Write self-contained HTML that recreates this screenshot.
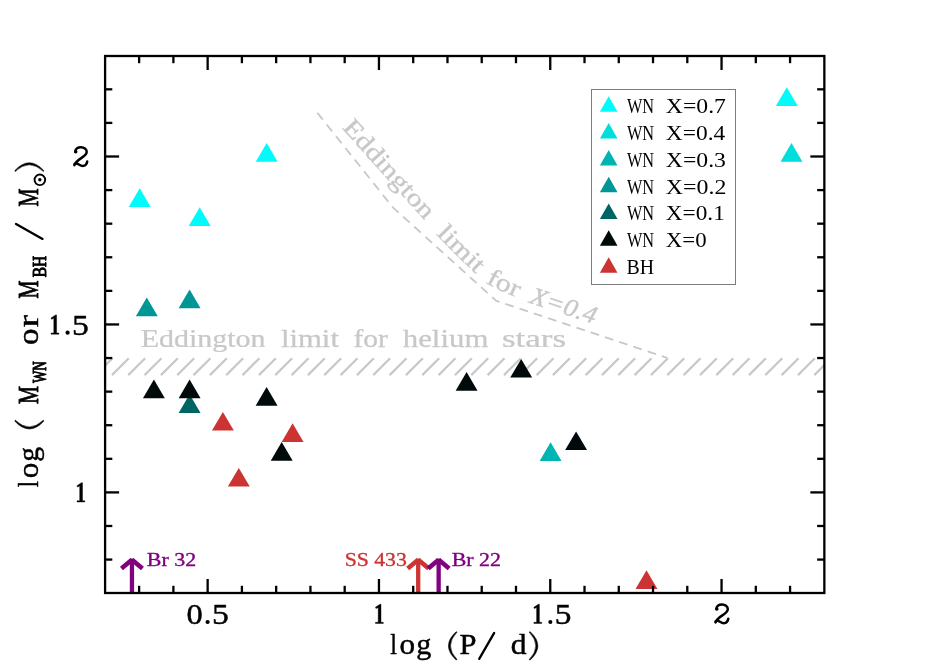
<!DOCTYPE html>
<html><head><meta charset="utf-8"><title>WN mass vs period</title>
<style>html,body{margin:0;padding:0;background:#fff;}body{width:940px;height:664px;overflow:hidden;}svg{display:block;will-change:transform;}text{font-family:"Liberation Serif",serif;}</style>
</head><body>
<svg width="940" height="664" viewBox="0 0 940 664">
<rect x="0" y="0" width="940" height="664" fill="#ffffff"/>
<defs><clipPath id="pc"><rect x="105.1" y="56.0" width="719.25" height="537.0"/></clipPath></defs>
<g clip-path="url(#pc)" stroke="#c8c8c8" stroke-width="2.2" stroke-linecap="butt" fill="none">
<line x1="95.56" y1="375.1" x2="112.47" y2="358.2"/>
<line x1="111.90" y1="375.1" x2="128.80" y2="358.2"/>
<line x1="128.24" y1="375.1" x2="145.14" y2="358.2"/>
<line x1="144.57" y1="375.1" x2="161.47" y2="358.2"/>
<line x1="160.91" y1="375.1" x2="177.81" y2="358.2"/>
<line x1="177.24" y1="375.1" x2="194.14" y2="358.2"/>
<line x1="193.57" y1="375.1" x2="210.48" y2="358.2"/>
<line x1="209.91" y1="375.1" x2="226.81" y2="358.2"/>
<line x1="226.25" y1="375.1" x2="243.15" y2="358.2"/>
<line x1="242.58" y1="375.1" x2="259.48" y2="358.2"/>
<line x1="258.92" y1="375.1" x2="275.82" y2="358.2"/>
<line x1="275.25" y1="375.1" x2="292.15" y2="358.2"/>
<line x1="291.59" y1="375.1" x2="308.49" y2="358.2"/>
<line x1="307.92" y1="375.1" x2="324.82" y2="358.2"/>
<line x1="324.25" y1="375.1" x2="341.16" y2="358.2"/>
<line x1="340.59" y1="375.1" x2="357.49" y2="358.2"/>
<line x1="356.93" y1="375.1" x2="373.83" y2="358.2"/>
<line x1="373.26" y1="375.1" x2="390.16" y2="358.2"/>
<line x1="389.60" y1="375.1" x2="406.50" y2="358.2"/>
<line x1="405.93" y1="375.1" x2="422.83" y2="358.2"/>
<line x1="422.27" y1="375.1" x2="439.17" y2="358.2"/>
<line x1="438.60" y1="375.1" x2="455.50" y2="358.2"/>
<line x1="454.94" y1="375.1" x2="471.84" y2="358.2"/>
<line x1="471.27" y1="375.1" x2="488.17" y2="358.2"/>
<line x1="487.61" y1="375.1" x2="504.51" y2="358.2"/>
<line x1="503.94" y1="375.1" x2="520.84" y2="358.2"/>
<line x1="520.28" y1="375.1" x2="537.18" y2="358.2"/>
<line x1="536.61" y1="375.1" x2="553.51" y2="358.2"/>
<line x1="552.94" y1="375.1" x2="569.85" y2="358.2"/>
<line x1="569.28" y1="375.1" x2="586.18" y2="358.2"/>
<line x1="585.62" y1="375.1" x2="602.52" y2="358.2"/>
<line x1="601.95" y1="375.1" x2="618.85" y2="358.2"/>
<line x1="618.29" y1="375.1" x2="635.19" y2="358.2"/>
<line x1="634.62" y1="375.1" x2="651.52" y2="358.2"/>
<line x1="650.95" y1="375.1" x2="667.86" y2="358.2"/>
<line x1="667.29" y1="375.1" x2="684.19" y2="358.2"/>
<line x1="683.62" y1="375.1" x2="700.53" y2="358.2"/>
<line x1="699.96" y1="375.1" x2="716.86" y2="358.2"/>
<line x1="716.30" y1="375.1" x2="733.20" y2="358.2"/>
<line x1="732.63" y1="375.1" x2="749.53" y2="358.2"/>
<line x1="748.97" y1="375.1" x2="765.87" y2="358.2"/>
<line x1="765.30" y1="375.1" x2="782.20" y2="358.2"/>
<line x1="781.63" y1="375.1" x2="798.54" y2="358.2"/>
<line x1="797.97" y1="375.1" x2="814.87" y2="358.2"/>
<line x1="814.31" y1="375.1" x2="831.21" y2="358.2"/>
</g>
<path d="M317.3,112.8 L392.8,207.3 L496.2,300.8 L667.2,357.9" fill="none" stroke="#c8c8c8" stroke-width="1.8" stroke-dasharray="8.8 6.2" stroke-linejoin="round"/>
<path id="edp" d="M328.33,113.22 L341.70,128.10 L343.80,130.43 L345.94,132.81 L348.11,135.23 L350.32,137.69 L352.57,140.19 L354.84,142.71 L357.13,145.26 L359.45,147.84 L361.78,150.43 L364.13,153.04 L366.49,155.66 L368.86,158.30 L371.23,160.93 L373.61,163.57 L375.98,166.20 L378.35,168.83 L380.70,171.45 L383.05,174.06 L385.38,176.65 L387.69,179.21 L389.98,181.76 L392.24,184.27 L394.47,186.75 L396.67,189.20 L398.83,191.61 L400.96,193.97 L403.04,196.29 L405.08,198.56 L407.06,200.77 L409.00,202.93 L410.88,205.02 L412.70,207.05 L414.45,209.01 L416.14,210.90 L417.76,212.71 L419.31,214.44 L420.78,216.09 L422.17,217.65 L423.48,219.12 L424.70,220.50 L425.82,221.77 L426.85,222.93 L427.77,223.99 L428.60,224.95 L429.34,225.81 L429.99,226.58 L430.57,227.27 L431.07,227.87 L431.50,228.41 L431.87,228.87 L432.18,229.26 L432.43,229.60 L432.63,229.88 L432.78,230.11 L432.89,230.29 L432.96,230.43 L433.00,230.54 L433.02,230.61 L433.01,230.66 L432.98,230.69 L432.94,230.70 L432.89,230.70 L432.84,230.69 L432.79,230.68 L432.74,230.67 L432.70,230.68 L432.68,230.69 L432.68,230.72 L432.70,230.78 L432.75,230.86 L432.84,230.98 L432.96,231.13 L433.13,231.33 L433.34,231.57 L433.61,231.87 L433.93,232.22 L434.32,232.64 L434.77,233.12 L435.30,233.67 L435.90,234.30 L436.57,235.00 L437.29,235.74 L438.06,236.53 L438.87,237.36 L439.73,238.24 L440.63,239.15 L441.57,240.10 L442.54,241.08 L443.55,242.09 L444.59,243.13 L445.65,244.20 L446.74,245.29 L447.85,246.39 L448.98,247.52 L450.12,248.66 L451.28,249.81 L452.45,250.97 L453.63,252.13 L454.81,253.30 L455.99,254.47 L457.18,255.65 L458.36,256.81 L459.54,257.97 L460.70,259.12 L461.86,260.26 L463.00,261.38 L464.13,262.49 L465.24,263.58 L466.32,264.64 L467.38,265.68 L468.41,266.69 L469.41,267.67 L470.38,268.62 L471.31,269.53 L472.21,270.40 L473.06,271.23 L473.87,272.02 L474.63,272.77 L475.34,273.46 L476.00,274.10 L476.61,274.70 L477.17,275.25 L477.69,275.77 L478.17,276.26 L478.62,276.71 L479.02,277.13 L479.39,277.52 L479.73,277.87 L480.04,278.21 L480.32,278.51 L480.57,278.79 L480.80,279.05 L481.01,279.29 L481.20,279.51 L481.38,279.71 L481.53,279.90 L481.68,280.06 L481.82,280.22 L481.94,280.37 L482.06,280.50 L482.18,280.63 L482.29,280.75 L482.41,280.86 L482.53,280.97 L482.65,281.08 L482.78,281.18 L482.91,281.29 L483.06,281.40 L483.22,281.52 L483.40,281.64 L483.60,281.77 L483.81,281.90 L484.05,282.05 L484.31,282.21 L484.60,282.38 L484.91,282.57 L485.26,282.77 L485.64,282.99 L486.05,283.24 L486.50,283.50 L486.98,283.78 L487.50,284.07 L488.03,284.36 L488.59,284.66 L489.18,284.96 L489.79,285.28 L490.41,285.59 L491.06,285.92 L491.72,286.24 L492.41,286.57 L493.10,286.91 L493.81,287.24 L494.53,287.58 L495.26,287.92 L496.00,288.27 L496.75,288.61 L497.51,288.96 L498.27,289.30 L499.04,289.65 L499.81,289.99 L500.58,290.34 L501.34,290.68 L502.11,291.02 L502.88,291.36 L503.64,291.70 L504.39,292.03 L505.14,292.36 L505.88,292.68 L506.61,293.00 L507.33,293.32 L508.03,293.63 L508.73,293.93 L509.40,294.23 L510.06,294.52 L510.71,294.80 L511.33,295.08 L511.93,295.35 L512.51,295.61 L513.07,295.86 L513.60,296.10 L514.10,296.33 L514.55,296.54 L514.95,296.73 L515.32,296.92 L515.65,297.08 L515.95,297.24 L516.22,297.38 L516.47,297.52 L516.69,297.64 L516.88,297.76 L517.06,297.87 L517.23,297.97 L517.38,298.06 L517.52,298.16 L517.66,298.25 L517.80,298.33 L517.93,298.42 L518.07,298.51 L518.22,298.59 L518.37,298.68 L518.53,298.77 L518.72,298.87 L518.91,298.97 L519.13,299.07 L519.38,299.19 L519.65,299.31 L519.95,299.44 L520.29,299.58 L520.66,299.73 L521.07,299.89 L521.52,300.07 L522.02,300.26 L522.57,300.46 L523.17,300.68 L523.82,300.92 L524.53,301.17 L525.30,301.45 L526.13,301.75 L527.03,302.06 L528.00,302.40 L529.04,302.76 L530.14,303.14 L531.29,303.53 L532.51,303.95 L533.78,304.38 L535.10,304.82 L536.48,305.28 L537.90,305.75 L539.36,306.24 L540.87,306.74 L542.42,307.25 L544.01,307.78 L545.63,308.31 L547.28,308.86 L548.97,309.41 L550.68,309.97 L552.42,310.54 L554.19,311.12 L555.97,311.70 L557.77,312.29 L559.59,312.88 L561.43,313.48 L563.27,314.08 L565.12,314.68 L566.98,315.29 L568.85,315.89 L570.71,316.50 L572.57,317.10 L574.44,317.71 L576.29,318.31 L578.14,318.92 L579.97,319.51 L581.80,320.11 L583.61,320.70 L585.40,321.28 L587.17,321.86 L588.92,322.43 L590.64,323.00 L592.33,323.55 L594.00,324.10 L613.00,330.34" fill="none" stroke="none"/>
<text font-size="25" fill="#c8c8c8" stroke="#c8c8c8" stroke-width="0.35" stroke-linejoin="round"><textPath href="#edp" startOffset="20.0" textLength="124.2" lengthAdjust="spacingAndGlyphs">Eddington</textPath></text>
<text font-size="25" fill="#c8c8c8" stroke="#c8c8c8" stroke-width="0.35" stroke-linejoin="round"><textPath href="#edp" startOffset="162.6" textLength="56.5" lengthAdjust="spacingAndGlyphs">limit</textPath></text>
<text font-size="25" fill="#c8c8c8" stroke="#c8c8c8" stroke-width="0.35" stroke-linejoin="round"><textPath href="#edp" startOffset="231.8" textLength="34.9" lengthAdjust="spacingAndGlyphs">for</textPath></text>
<text font-size="25" fill="#c8c8c8" stroke="#c8c8c8" stroke-width="0.35" stroke-linejoin="round" font-style="italic"><textPath href="#edp" startOffset="279.4" textLength="69.0" lengthAdjust="spacingAndGlyphs">X=0.4</textPath></text>
<text transform="translate(140.68,346.50) scale(1.2242,1)" font-size="24.5" fill="#c8c8c8" stroke="#c8c8c8" stroke-width="0.25" stroke-linejoin="round">Eddington</text>
<text transform="translate(280.88,346.50) scale(1.2545,1)" font-size="24.5" fill="#c8c8c8" stroke="#c8c8c8" stroke-width="0.25" stroke-linejoin="round">limit</text>
<text transform="translate(353.39,346.50) scale(1.2078,1)" font-size="24.5" fill="#c8c8c8" stroke="#c8c8c8" stroke-width="0.25" stroke-linejoin="round">for</text>
<text transform="translate(402.76,346.50) scale(1.2589,1)" font-size="24.5" fill="#c8c8c8" stroke="#c8c8c8" stroke-width="0.25" stroke-linejoin="round">helium</text>
<text transform="translate(501.98,346.50) scale(1.4291,1)" font-size="24.5" fill="#c8c8c8" stroke="#c8c8c8" stroke-width="0.25" stroke-linejoin="round">stars</text>
<polygon points="189.6,394.2 178.65,412.9 200.55,412.9" fill="#006464"/>
<polygon points="266.7,143.1 255.75,161.8 277.65,161.8" fill="#00fcfa"/>
<polygon points="139.7,188.2 128.75,206.9 150.65,206.9" fill="#00fcfa"/>
<polygon points="199.7,207.2 188.75,225.9 210.65,225.9" fill="#00fcfa"/>
<polygon points="146.8,297.6 135.85,316.3 157.75,316.3" fill="#009696"/>
<polygon points="189.6,289.5 178.65,308.2 200.55,308.2" fill="#009696"/>
<polygon points="153.9,379.5 142.95,398.2 164.85,398.2" fill="#000a0a"/>
<polygon points="189.6,379.5 178.65,398.2 200.55,398.2" fill="#000a0a"/>
<polygon points="266.6,387.0 255.65,405.7 277.55,405.7" fill="#000a0a"/>
<polygon points="281.7,442.1 270.75,460.8 292.65,460.8" fill="#000a0a"/>
<polygon points="222.9,411.9 211.95,430.6 233.85,430.6" fill="#cc3333"/>
<polygon points="292.6,423.3 281.65,442.0 303.55,442.0" fill="#cc3333"/>
<polygon points="238.8,467.9 227.85,486.6 249.75,486.6" fill="#cc3333"/>
<polygon points="466.6,372.1 455.65,390.8 477.55,390.8" fill="#000a0a"/>
<polygon points="521.2,358.9 510.25,377.6 532.15,377.6" fill="#000a0a"/>
<polygon points="550.6,442.2 539.65,460.9 561.55,460.9" fill="#00b4b4"/>
<polygon points="576.1,431.4 565.15,450.1 587.05,450.1" fill="#000a0a"/>
<polygon points="646.5,570.2 635.55,588.9 657.45,588.9" fill="#cc3333"/>
<polygon points="786.8,87.3 775.85,106.0 797.75,106.0" fill="#00fcfa"/>
<polygon points="791.5,143.0 780.55,161.7 802.45,161.7" fill="#00dddd"/>
<g stroke="#800080" stroke-width="4.3" fill="none" stroke-linecap="butt">
<line x1="131.95" y1="593.0" x2="131.95" y2="558.6"/>
<line x1="131.95" y1="559.8" x2="121.45" y2="568.5" stroke-width="4.6"/>
<line x1="131.95" y1="559.8" x2="142.45" y2="568.5" stroke-width="4.6"/>
</g>
<g stroke="#cc3333" stroke-width="4.3" fill="none" stroke-linecap="butt">
<line x1="418.2" y1="593.0" x2="418.2" y2="558.6"/>
<line x1="418.2" y1="559.8" x2="407.70" y2="568.5" stroke-width="4.6"/>
<line x1="418.2" y1="559.8" x2="428.70" y2="568.5" stroke-width="4.6"/>
</g>
<g stroke="#800080" stroke-width="4.3" fill="none" stroke-linecap="butt">
<line x1="438.65" y1="593.0" x2="438.65" y2="558.6"/>
<line x1="438.65" y1="559.8" x2="428.15" y2="568.5" stroke-width="4.6"/>
<line x1="438.65" y1="559.8" x2="449.15" y2="568.5" stroke-width="4.6"/>
</g>
<text transform="translate(146.76,566.20) scale(1.1670,1)" font-size="18.8" fill="#800080" stroke="#800080" stroke-width="0.35" stroke-linejoin="round">Br 32</text>
<text transform="translate(344.64,566.20) scale(1.1565,1)" font-size="18.8" fill="#cc3333" stroke="#cc3333" stroke-width="0.35" stroke-linejoin="round">SS 433</text>
<text transform="translate(451.76,566.20) scale(1.1646,1)" font-size="18.8" fill="#800080" stroke="#800080" stroke-width="0.35" stroke-linejoin="round">Br 22</text>
<rect x="591.5" y="89.5" width="144" height="195" fill="#ffffff" stroke="#7c7c7c" stroke-width="1"/>
<polygon points="608.7,96.2 599.9000000000001,111.7 617.5,111.7" fill="#00fcfa"/>
<text transform="translate(626.90,113.15) scale(0.7424,1)" font-size="22" fill="#000">WN</text>
<text transform="translate(665.83,113.15) scale(1.0779,1)" font-size="22" fill="#000">X=0.7</text>
<polygon points="608.7,123.0 599.9000000000001,138.5 617.5,138.5" fill="#00dddd"/>
<text transform="translate(626.90,139.98) scale(0.7424,1)" font-size="22" fill="#000">WN</text>
<text transform="translate(665.83,139.98) scale(1.0652,1)" font-size="22" fill="#000">X=0.4</text>
<polygon points="608.7,149.9 599.9000000000001,165.4 617.5,165.4" fill="#00b4b4"/>
<text transform="translate(626.90,166.81) scale(0.7424,1)" font-size="22" fill="#000">WN</text>
<text transform="translate(665.83,166.81) scale(1.0774,1)" font-size="22" fill="#000">X=0.3</text>
<polygon points="608.7,176.7 599.9000000000001,192.2 617.5,192.2" fill="#009696"/>
<text transform="translate(626.90,193.64) scale(0.7424,1)" font-size="22" fill="#000">WN</text>
<text transform="translate(665.83,193.64) scale(1.0860,1)" font-size="22" fill="#000">X=0.2</text>
<polygon points="608.7,203.5 599.9000000000001,219.0 617.5,219.0" fill="#006464"/>
<text transform="translate(626.90,220.47) scale(0.7424,1)" font-size="22" fill="#000">WN</text>
<text transform="translate(665.84,220.47) scale(1.0566,1)" font-size="22" fill="#000">X=0.1</text>
<polygon points="608.7,230.3 599.9000000000001,245.8 617.5,245.8" fill="#000a0a"/>
<text transform="translate(626.90,247.30) scale(0.7424,1)" font-size="22" fill="#000">WN</text>
<text transform="translate(665.84,247.30) scale(1.0402,1)" font-size="22" fill="#000">X=0</text>
<polygon points="608.7,257.2 599.9000000000001,272.7 617.5,272.7" fill="#cc3333"/>
<text transform="translate(626.59,274.13) scale(0.9027,1)" font-size="22" fill="#000">BH</text>
<g stroke="#000" stroke-width="2.3" fill="none" stroke-linecap="butt">
<rect x="105.1" y="56.0" width="719.25" height="537.0"/>
<line x1="139.13" y1="593.0" x2="139.13" y2="585.8"/>
<line x1="139.13" y1="56.0" x2="139.13" y2="63.2"/>
<line x1="173.39" y1="593.0" x2="173.39" y2="585.8"/>
<line x1="173.39" y1="56.0" x2="173.39" y2="63.2"/>
<line x1="207.65" y1="593.0" x2="207.65" y2="579.0"/>
<line x1="207.65" y1="56.0" x2="207.65" y2="70.0"/>
<line x1="241.91" y1="593.0" x2="241.91" y2="585.8"/>
<line x1="241.91" y1="56.0" x2="241.91" y2="63.2"/>
<line x1="276.17" y1="593.0" x2="276.17" y2="585.8"/>
<line x1="276.17" y1="56.0" x2="276.17" y2="63.2"/>
<line x1="310.43" y1="593.0" x2="310.43" y2="585.8"/>
<line x1="310.43" y1="56.0" x2="310.43" y2="63.2"/>
<line x1="344.69" y1="593.0" x2="344.69" y2="585.8"/>
<line x1="344.69" y1="56.0" x2="344.69" y2="63.2"/>
<line x1="378.95" y1="593.0" x2="378.95" y2="579.0"/>
<line x1="378.95" y1="56.0" x2="378.95" y2="70.0"/>
<line x1="413.21" y1="593.0" x2="413.21" y2="585.8"/>
<line x1="413.21" y1="56.0" x2="413.21" y2="63.2"/>
<line x1="447.47" y1="593.0" x2="447.47" y2="585.8"/>
<line x1="447.47" y1="56.0" x2="447.47" y2="63.2"/>
<line x1="481.73" y1="593.0" x2="481.73" y2="585.8"/>
<line x1="481.73" y1="56.0" x2="481.73" y2="63.2"/>
<line x1="515.99" y1="593.0" x2="515.99" y2="585.8"/>
<line x1="515.99" y1="56.0" x2="515.99" y2="63.2"/>
<line x1="550.25" y1="593.0" x2="550.25" y2="579.0"/>
<line x1="550.25" y1="56.0" x2="550.25" y2="70.0"/>
<line x1="584.51" y1="593.0" x2="584.51" y2="585.8"/>
<line x1="584.51" y1="56.0" x2="584.51" y2="63.2"/>
<line x1="618.77" y1="593.0" x2="618.77" y2="585.8"/>
<line x1="618.77" y1="56.0" x2="618.77" y2="63.2"/>
<line x1="653.03" y1="593.0" x2="653.03" y2="585.8"/>
<line x1="653.03" y1="56.0" x2="653.03" y2="63.2"/>
<line x1="687.29" y1="593.0" x2="687.29" y2="585.8"/>
<line x1="687.29" y1="56.0" x2="687.29" y2="63.2"/>
<line x1="721.55" y1="593.0" x2="721.55" y2="579.0"/>
<line x1="721.55" y1="56.0" x2="721.55" y2="70.0"/>
<line x1="755.81" y1="593.0" x2="755.81" y2="585.8"/>
<line x1="755.81" y1="56.0" x2="755.81" y2="63.2"/>
<line x1="790.07" y1="593.0" x2="790.07" y2="585.8"/>
<line x1="790.07" y1="56.0" x2="790.07" y2="63.2"/>
<line x1="105.1" y1="559.58" x2="112.3" y2="559.58"/>
<line x1="824.35" y1="559.58" x2="817.15" y2="559.58"/>
<line x1="105.1" y1="525.99" x2="112.3" y2="525.99"/>
<line x1="824.35" y1="525.99" x2="817.15" y2="525.99"/>
<line x1="105.1" y1="492.40" x2="119.1" y2="492.40"/>
<line x1="824.35" y1="492.40" x2="810.35" y2="492.40"/>
<line x1="105.1" y1="458.81" x2="112.3" y2="458.81"/>
<line x1="824.35" y1="458.81" x2="817.15" y2="458.81"/>
<line x1="105.1" y1="425.22" x2="112.3" y2="425.22"/>
<line x1="824.35" y1="425.22" x2="817.15" y2="425.22"/>
<line x1="105.1" y1="391.63" x2="112.3" y2="391.63"/>
<line x1="824.35" y1="391.63" x2="817.15" y2="391.63"/>
<line x1="105.1" y1="358.04" x2="112.3" y2="358.04"/>
<line x1="824.35" y1="358.04" x2="817.15" y2="358.04"/>
<line x1="105.1" y1="324.45" x2="119.1" y2="324.45"/>
<line x1="824.35" y1="324.45" x2="810.35" y2="324.45"/>
<line x1="105.1" y1="290.86" x2="112.3" y2="290.86"/>
<line x1="824.35" y1="290.86" x2="817.15" y2="290.86"/>
<line x1="105.1" y1="257.27" x2="112.3" y2="257.27"/>
<line x1="824.35" y1="257.27" x2="817.15" y2="257.27"/>
<line x1="105.1" y1="223.68" x2="112.3" y2="223.68"/>
<line x1="824.35" y1="223.68" x2="817.15" y2="223.68"/>
<line x1="105.1" y1="190.09" x2="112.3" y2="190.09"/>
<line x1="824.35" y1="190.09" x2="817.15" y2="190.09"/>
<line x1="105.1" y1="156.50" x2="119.1" y2="156.50"/>
<line x1="824.35" y1="156.50" x2="810.35" y2="156.50"/>
<line x1="105.1" y1="122.91" x2="112.3" y2="122.91"/>
<line x1="824.35" y1="122.91" x2="817.15" y2="122.91"/>
<line x1="105.1" y1="89.32" x2="112.3" y2="89.32"/>
<line x1="824.35" y1="89.32" x2="817.15" y2="89.32"/>
</g>
<text transform="translate(186.53,624.10) scale(1.0829,1)" font-size="30.0" fill="#000" stroke="#000" stroke-width="0.45" stroke-linejoin="round">0</text>
<circle cx="207.60" cy="622.00" r="2.10" fill="#000"/>
<text transform="translate(211.88,624.10) scale(1.1216,1)" font-size="30.0" fill="#000" stroke="#000" stroke-width="0.45" stroke-linejoin="round">5</text>
<path transform="translate(374.90,603.60)" d="M6.1,0.6 L5.1,0.6 L0.5,3.7 L1.1,5.0 L3.3,4.0 L3.3,18.7 L0.6,18.7 L0.6,19.9 L8.4,19.9 L8.4,18.7 L6.1,18.7 Z" fill="#000" stroke="#000" stroke-width="0.4" stroke-linejoin="round"/>
<path transform="translate(533.30,603.60)" d="M6.1,0.6 L5.1,0.6 L0.5,3.7 L1.1,5.0 L3.3,4.0 L3.3,18.7 L0.6,18.7 L0.6,19.9 L8.4,19.9 L8.4,18.7 L6.1,18.7 Z" fill="#000" stroke="#000" stroke-width="0.4" stroke-linejoin="round"/>
<circle cx="550.35" cy="622.05" r="2.05" fill="#000"/>
<text transform="translate(554.68,624.10) scale(1.1140,1)" font-size="30.0" fill="#000" stroke="#000" stroke-width="0.45" stroke-linejoin="round">5</text>
<g transform="translate(714.10,603.40)" fill="none" stroke="#000" stroke-width="2.5" stroke-linecap="round" stroke-linejoin="round">
<path d="M2.4,5.4 C2.0,-0.6 13.9,-0.3 13.7,5.8 C13.5,11.0 3.4,12.6 1.4,19.0"/>
<path d="M1.5,17.9 C4.2,15.2 6.6,20.5 10.5,19.7 C12.9,19.2 13.9,17.4 14.2,15.4"/>
<circle cx="2.7" cy="5.6" r="1.0" fill="#000" stroke-width="1.6"/>
</g>
<g transform="translate(73.00,146.20)" fill="none" stroke="#000" stroke-width="2.5" stroke-linecap="round" stroke-linejoin="round">
<path d="M2.4,5.4 C2.0,-0.6 13.9,-0.3 13.7,5.8 C13.5,11.0 3.4,12.6 1.4,19.0"/>
<path d="M1.5,17.9 C4.2,15.2 6.6,20.5 10.5,19.7 C12.9,19.2 13.9,17.4 14.2,15.4"/>
<circle cx="2.7" cy="5.6" r="1.0" fill="#000" stroke-width="1.6"/>
</g>
<path transform="translate(50.50,314.30)" d="M6.1,0.6 L5.1,0.6 L0.5,3.7 L1.1,5.0 L3.3,4.0 L3.3,18.7 L0.6,18.7 L0.6,19.9 L8.4,19.9 L8.4,18.7 L6.1,18.7 Z" fill="#000" stroke="#000" stroke-width="0.4" stroke-linejoin="round"/>
<circle cx="67.60" cy="332.70" r="2.10" fill="#000"/>
<text transform="translate(71.88,334.80) scale(1.1216,1)" font-size="30.0" fill="#000" stroke="#000" stroke-width="0.45" stroke-linejoin="round">5</text>
<path transform="translate(76.40,482.10)" d="M6.1,0.6 L5.1,0.6 L0.5,3.7 L1.1,5.0 L3.3,4.0 L3.3,18.7 L0.6,18.7 L0.6,19.9 L8.4,19.9 L8.4,18.7 L6.1,18.7 Z" fill="#000" stroke="#000" stroke-width="0.4" stroke-linejoin="round"/>
<text transform="translate(390.31,654.20) scale(0.8153,1)" font-size="29.6" fill="#000" stroke="#000" stroke-width="0.45" stroke-linejoin="round">l</text>
<text transform="translate(399.56,654.20) scale(1.0522,1)" font-size="29.6" fill="#000" stroke="#000" stroke-width="0.45" stroke-linejoin="round">o</text>
<text transform="translate(416.19,654.20) scale(1.0171,1)" font-size="29.6" fill="#000" stroke="#000" stroke-width="0.45" stroke-linejoin="round">g</text>
<path d="M456.00,631.80 Q440.80,645.85 456.00,659.90 L457.10,659.60 Q443.90,645.85 457.10,632.10 Z" fill="#000" stroke="#000" stroke-width="0.5" stroke-linejoin="round"/>
<text transform="translate(459.61,654.20) scale(1.0308,1)" font-size="29.6" fill="#000" stroke="#000" stroke-width="0.55" stroke-linejoin="round">P</text>
<line x1="479.20" y1="658.80" x2="494.20" y2="632.90" stroke="#000" stroke-width="2.3" stroke-linecap="round"/>
<text transform="translate(510.75,654.20) scale(1.0681,1)" font-size="29.6" fill="#000" stroke="#000" stroke-width="0.45" stroke-linejoin="round">d</text>
<path d="M530.20,631.70 Q545.60,645.85 530.20,660.00 L529.10,659.70 Q542.50,645.85 529.10,632.00 Z" fill="#000" stroke="#000" stroke-width="0.5" stroke-linejoin="round"/>
<g transform="translate(38.15,487.1) rotate(-90)">
<text transform="translate(-0.18,0.00) scale(0.7375,1)" font-size="30.2" fill="#000" stroke="#000" stroke-width="0.45" stroke-linejoin="round">l</text>
<text transform="translate(8.86,0.00) scale(1.0320,1)" font-size="30.2" fill="#000" stroke="#000" stroke-width="0.45" stroke-linejoin="round">o</text>
<text transform="translate(25.39,0.00) scale(0.9834,1)" font-size="30.2" fill="#000" stroke="#000" stroke-width="0.45" stroke-linejoin="round">g</text>
<path d="M65.90,-23.30 Q50.30,-8.85 65.90,5.60 L67.00,5.30 Q53.40,-8.85 67.00,-23.00 Z" fill="#000" stroke="#000" stroke-width="0.5" stroke-linejoin="round"/>
<text transform="translate(83.19,0.00) scale(0.6740,1)" font-size="30.2" fill="#000" stroke="#000" stroke-width="0.9" stroke-linejoin="round">M</text>
<text transform="translate(104.07,8.00) scale(0.7356,1)" font-size="17.8" fill="#000" stroke="#000" stroke-width="1.0" stroke-linejoin="round">WN</text>
<text transform="translate(142.12,0.00) scale(1.0906,1)" font-size="30.2" fill="#000" stroke="#000" stroke-width="0.45" stroke-linejoin="round">o</text>
<text transform="translate(159.90,0.00) scale(1.2238,1)" font-size="30.2" fill="#000" stroke="#000" stroke-width="0.45" stroke-linejoin="round">r</text>
<text transform="translate(188.49,0.00) scale(0.6740,1)" font-size="30.2" fill="#000" stroke="#000" stroke-width="0.9" stroke-linejoin="round">M</text>
<text transform="translate(209.79,8.00) scale(0.8642,1)" font-size="17.8" fill="#000" stroke="#000" stroke-width="1.0" stroke-linejoin="round">BH</text>
<line x1="248.20" y1="4.40" x2="263.20" y2="-22.10" stroke="#000" stroke-width="2.3" stroke-linecap="round"/>
<text transform="translate(280.49,0.00) scale(0.6703,1)" font-size="30.2" fill="#000" stroke="#000" stroke-width="0.9" stroke-linejoin="round">M</text>
<circle cx="307.3" cy="1.7" r="5.3" fill="none" stroke="#000" stroke-width="1.9"/><circle cx="307.3" cy="1.7" r="1.7" fill="#000"/>
<path d="M316.60,-23.30 Q332.20,-8.85 316.60,5.60 L315.50,5.30 Q329.10,-8.85 315.50,-23.00 Z" fill="#000" stroke="#000" stroke-width="0.5" stroke-linejoin="round"/>
</g>
</svg></body></html>
